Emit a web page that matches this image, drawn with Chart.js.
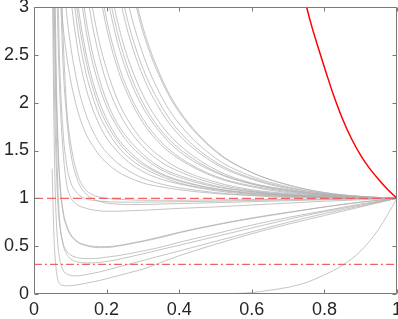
<!DOCTYPE html>
<html><head><meta charset="utf-8">
<script src="https://cdn.jsdelivr.net/npm/chart.js@4/dist/chart.umd.min.js"></script>
<style>html,body{margin:0;padding:0;background:#fff;overflow:hidden}canvas{display:block}</style>
</head><body>
<canvas id="c" width="398" height="319" style="width:398px;height:319px"></canvas>
<script>
const xTickValues = [0, 0.2, 0.4, 0.6, 0.8, 1];
const xTickLabels = ['0', '0.2', '0.4', '0.6', '0.8', '1'];
const yTickValues = [0, 0.5, 1, 1.5, 2, 2.5, 3];
const yTickLabels = ['0', '0.5', '1', '1.5', '2', '2.5', '3'];
const refLevelHigh = 1;
const refLevelLow = 0.31;

// red boundary curve
const boundaryCurve = [[0.745,3.1],[0.751,3.0],[0.765,2.80],[0.785,2.55],[0.805,2.31],[0.826,2.07],[0.85,1.83],[0.875,1.62],[0.9,1.45],[0.925,1.31],[0.95,1.195],[0.975,1.09],[1,1]];

// grey trajectories staying above 1
const upper01 = [[0.09,3.54],[0.1,3.14],[0.12,2.57],[0.14,2.20],[0.16,1.95],[0.18,1.77],[0.2,1.63],[0.23,1.49],[0.26,1.38],[0.3,1.28],[0.35,1.20],[0.4,1.15],[0.5,1.08],[0.6,1.04],[0.7,1.02],[0.8,1.01],[0.9,1.0],[1,1]];
const upper02 = [[0.1,3.42],[0.12,2.78],[0.14,2.36],[0.16,2.08],[0.18,1.87],[0.2,1.72],[0.23,1.55],[0.26,1.43],[0.3,1.32],[0.35,1.23],[0.4,1.16],[0.5,1.09],[0.6,1.05],[0.7,1.03],[0.8,1.01],[0.9,1.0],[1,1]];
const upper03 = [[0.1,3.80],[0.12,3.06],[0.14,2.58],[0.16,2.25],[0.18,2.01],[0.2,1.83],[0.23,1.63],[0.26,1.50],[0.3,1.37],[0.35,1.26],[0.4,1.19],[0.5,1.10],[0.6,1.06],[0.7,1.03],[0.8,1.01],[0.9,1.0],[1,1]];
const upper04 = [[0.12,3.39],[0.14,2.83],[0.16,2.44],[0.18,2.17],[0.2,1.96],[0.23,1.74],[0.26,1.58],[0.3,1.43],[0.35,1.30],[0.4,1.22],[0.5,1.12],[0.6,1.07],[0.7,1.03],[0.8,1.02],[0.9,1.0],[1,1]];
const upper05 = [[0.12,3.54],[0.14,2.95],[0.16,2.54],[0.18,2.25],[0.2,2.02],[0.23,1.78],[0.26,1.62],[0.3,1.46],[0.35,1.32],[0.4,1.24],[0.5,1.13],[0.6,1.07],[0.7,1.04],[0.8,1.02],[0.9,1.0],[1,1]];
const upper06 = [[0.14,3.31],[0.16,2.83],[0.18,2.48],[0.2,2.21],[0.23,1.93],[0.26,1.73],[0.3,1.54],[0.35,1.38],[0.4,1.28],[0.5,1.15],[0.6,1.08],[0.7,1.04],[0.8,1.02],[0.9,1.01],[1,1]];
const upper07 = [[0.14,3.56],[0.16,3.02],[0.18,2.63],[0.2,2.35],[0.23,2.03],[0.26,1.81],[0.3,1.60],[0.35,1.43],[0.4,1.31],[0.5,1.17],[0.6,1.09],[0.7,1.05],[0.8,1.02],[0.9,1.01],[1,1]];
const upper08 = [[0.18,3.17],[0.2,2.78],[0.23,2.36],[0.26,2.07],[0.3,1.79],[0.35,1.56],[0.4,1.41],[0.5,1.22],[0.6,1.12],[0.7,1.06],[0.8,1.03],[0.9,1.01],[1,1]];
const upper09 = [[0.18,3.28],[0.2,2.87],[0.23,2.43],[0.26,2.12],[0.3,1.83],[0.35,1.59],[0.4,1.43],[0.5,1.23],[0.6,1.13],[0.7,1.07],[0.8,1.03],[0.9,1.01],[1,1]];
const upper10 = [[0.2,3.13],[0.23,2.63],[0.26,2.28],[0.3,1.95],[0.35,1.68],[0.4,1.49],[0.5,1.27],[0.6,1.15],[0.7,1.08],[0.8,1.03],[0.9,1.01],[1,1]];
const upper11 = [[0.2,3.25],[0.23,2.73],[0.26,2.35],[0.3,2.00],[0.35,1.71],[0.4,1.52],[0.5,1.28],[0.6,1.15],[0.7,1.08],[0.8,1.04],[0.9,1.01],[1,1]];
const upper12 = [[0.2,3.42],[0.23,2.85],[0.26,2.45],[0.3,2.08],[0.35,1.77],[0.4,1.56],[0.5,1.30],[0.6,1.16],[0.7,1.09],[0.8,1.04],[0.9,1.01],[1,1]];
const upper13 = [[0.23,3.19],[0.26,2.72],[0.3,2.28],[0.35,1.91],[0.4,1.66],[0.5,1.36],[0.6,1.20],[0.7,1.10],[0.8,1.04],[0.9,1.01],[1,1]];
const upper14 = [[0.23,3.34],[0.26,2.83],[0.3,2.36],[0.35,1.97],[0.4,1.70],[0.5,1.38],[0.6,1.21],[0.7,1.11],[0.8,1.05],[0.9,1.01],[1,1]];
const upper15 = [[0.23,3.59],[0.26,3.03],[0.3,2.51],[0.35,2.07],[0.4,1.78],[0.5,1.42],[0.6,1.23],[0.7,1.12],[0.8,1.05],[0.9,1.02],[1,1]];
const upper16 = [[0.26,3.35],[0.3,2.74],[0.35,2.24],[0.4,1.90],[0.5,1.49],[0.6,1.27],[0.7,1.14],[0.8,1.06],[0.9,1.02],[1,1]];
const upper17 = [[0.26,3.42],[0.3,2.79],[0.35,2.27],[0.4,1.92],[0.5,1.50],[0.6,1.27],[0.7,1.14],[0.8,1.06],[0.9,1.02],[1,1]];
const upper18 = [[0.08,3.34],[0.09,2.93],[0.1,2.62],[0.12,2.19],[0.14,1.91],[0.16,1.72],[0.18,1.58],[0.2,1.48],[0.23,1.37],[0.26,1.29],[0.3,1.21],[0.35,1.15],[0.4,1.11],[0.5,1.06],[0.6,1.03],[0.7,1.02],[0.8,1.01],[0.9,1.0],[1,1]];
const upper19 = [[0.1,3.64],[0.12,2.94],[0.14,2.49],[0.16,2.18],[0.18,1.95],[0.2,1.78],[0.23,1.60],[0.26,1.47],[0.3,1.35],[0.35,1.25],[0.4,1.18],[0.5,1.10],[0.6,1.05],[0.7,1.03],[0.8,1.01],[0.9,1.0],[1,1]];
const upper20 = [[0.07,3.24],[0.08,2.80],[0.09,2.49],[0.1,2.25],[0.12,1.92],[0.14,1.70],[0.16,1.56],[0.18,1.45],[0.2,1.37],[0.23,1.28],[0.26,1.22],[0.3,1.16],[0.35,1.12],[0.4,1.09],[0.5,1.05],[0.6,1.03],[0.7,1.01],[0.8,1.01],[0.9,1.0],[1,1]];

// grey trajectories dipping below 1
const lowerG = [[0.07,3.5],[0.08,2.4],[0.09,1.85],[0.1,1.5],[0.12,1.19],[0.14,1.06],[0.16,1.0],[0.18,0.97],[0.2,0.95],[0.23,0.94],[0.26,0.935],[0.3,0.935],[0.35,0.94],[0.4,0.945],[0.5,0.955],[0.6,0.965],[0.7,0.975],[0.8,0.985],[0.9,0.995],[1,1]];
const lowerF = [[0.06,3.6],[0.07,2.2],[0.08,1.5],[0.09,1.15],[0.1,1.02],[0.12,0.93],[0.14,0.9],[0.16,0.88],[0.18,0.87],[0.2,0.865],[0.23,0.865],[0.26,0.87],[0.3,0.875],[0.35,0.885],[0.4,0.895],[0.5,0.91],[0.6,0.93],[0.7,0.95],[0.8,0.97],[0.9,0.985],[1,1]];
const lowerI1 = [[0.065,3.4],[0.07,2.5],[0.08,1.7],[0.09,1.35],[0.1,1.18],[0.12,1.05],[0.14,1.0],[0.16,0.98],[0.2,0.965],[0.26,0.96],[0.3,0.96],[0.4,0.965],[0.5,0.97],[0.6,0.978],[0.7,0.985],[0.8,0.99],[0.9,0.996],[1,1]];
const lowerI2 = [[0.075,3.3],[0.08,2.7],[0.09,1.95],[0.1,1.6],[0.12,1.25],[0.14,1.1],[0.16,1.04],[0.2,1.0],[0.26,0.985],[0.3,0.98],[0.4,0.98],[0.5,0.983],[0.6,0.987],[0.7,0.99],[0.8,0.994],[0.9,0.998],[1,1]];
const lowerA = [[0.055,3.5],[0.06,2.3],[0.065,1.6],[0.07,1.2],[0.08,0.85],[0.09,0.7],[0.1,0.62],[0.12,0.54],[0.14,0.51],[0.16,0.49],[0.18,0.485],[0.2,0.485],[0.23,0.5],[0.26,0.52],[0.3,0.55],[0.35,0.59],[0.4,0.64],[0.5,0.72],[0.6,0.79],[0.7,0.85],[0.8,0.91],[0.9,0.96],[1,1]];
const lowerA2 = [[0.057,3.4],[0.062,2.2],[0.067,1.5],[0.072,1.15],[0.08,0.87],[0.09,0.72],[0.1,0.63],[0.12,0.55],[0.14,0.515],[0.16,0.5],[0.18,0.495],[0.2,0.495],[0.23,0.505],[0.26,0.525],[0.3,0.555],[0.35,0.6],[0.4,0.645],[0.5,0.725],[0.6,0.795],[0.7,0.855],[0.8,0.91],[0.9,0.96],[1,1]];
const lowerB = [[0.052,3.4],[0.055,2.4],[0.06,1.5],[0.065,1.0],[0.07,0.75],[0.08,0.53],[0.09,0.45],[0.1,0.41],[0.12,0.38],[0.14,0.37],[0.16,0.37],[0.18,0.375],[0.2,0.385],[0.23,0.40],[0.26,0.42],[0.3,0.45],[0.35,0.49],[0.4,0.54],[0.5,0.63],[0.6,0.72],[0.7,0.80],[0.8,0.87],[0.9,0.94],[1,1]];
const lowerC = [[0.054,3.5],[0.058,2.4],[0.062,1.6],[0.066,1.1],[0.07,0.8],[0.08,0.52],[0.09,0.42],[0.1,0.37],[0.12,0.335],[0.14,0.325],[0.16,0.325],[0.18,0.33],[0.2,0.34],[0.23,0.36],[0.26,0.385],[0.3,0.42],[0.35,0.465],[0.4,0.51],[0.5,0.60],[0.6,0.69],[0.7,0.78],[0.8,0.86],[0.9,0.93],[1,1]];
const lowerD = [[0.05,3.5],[0.053,2.4],[0.056,1.5],[0.06,0.9],[0.065,0.55],[0.07,0.38],[0.08,0.25],[0.09,0.21],[0.1,0.195],[0.11,0.19],[0.12,0.19],[0.14,0.2],[0.16,0.215],[0.18,0.23],[0.2,0.25],[0.23,0.28],[0.26,0.31],[0.3,0.35],[0.35,0.40],[0.4,0.45],[0.5,0.55],[0.6,0.65],[0.7,0.75],[0.8,0.84],[0.9,0.92],[1,1]];
const lowerE = [[0.05,1.31],[0.055,0.6],[0.06,0.3],[0.065,0.16],[0.07,0.11],[0.08,0.09],[0.09,0.085],[0.1,0.087],[0.12,0.095],[0.14,0.11],[0.16,0.125],[0.18,0.14],[0.2,0.16],[0.23,0.19],[0.26,0.22],[0.3,0.26],[0.35,0.33],[0.4,0.40],[0.5,0.52],[0.6,0.63],[0.7,0.73],[0.8,0.82],[0.9,0.91],[1,1]];
const lowerH = [[0.45,0.0],[0.55,0.005],[0.6,0.015],[0.65,0.04],[0.7,0.07],[0.75,0.12],[0.8,0.2],[0.85,0.3],[0.9,0.45],[0.95,0.68],[1,1]];

const greyCurves = [upper01,upper02,upper03,upper04,upper05,upper06,upper07,upper08,upper09,upper10,
  upper11,upper12,upper13,upper14,upper15,upper16,upper17,upper18,upper19,upper20,
  lowerG,lowerF,lowerI1,lowerI2,lowerA,lowerA2,lowerB,lowerC,lowerD,lowerE,lowerH];

const toPts = arr => arr.map(p => ({x: p[0], y: p[1]}));
const FONT = {family: "'Liberation Sans', Arial, Helvetica, sans-serif", size: 18};
const TEXT = '#262626';

const datasets = [];
datasets.push({data: toPts(boundaryCurve), borderColor: '#ff0000', borderWidth: 1.5, order: 0, cubicInterpolationMode: 'monotone'});
datasets.push({data: [{x:0,y:refLevelHigh},{x:1,y:refLevelHigh}], borderColor: 'rgba(245,90,90,0.95)', borderWidth: 1.3, borderDash: [9,4], order: 0});
datasets.push({data: [{x:0,y:refLevelLow},{x:1,y:refLevelLow}], borderColor: 'rgba(240,90,90,0.95)', borderWidth: 1.2, borderDash: [8,3,2,3], order: 0});
greyCurves.forEach(c => datasets.push({data: toPts(c), borderColor: 'rgba(178,178,178,0.85)', borderWidth: 0.9, order: 1, cubicInterpolationMode: 'monotone'}));
datasets.forEach(d => { d.pointRadius = 0; d.fill = false; d.showLine = true; });

const frame = {
  id: 'frame',
  afterDatasetsDraw(chart) {
    const ctx = chart.ctx, xs = chart.scales.x, ys = chart.scales.y;
    const L = Math.floor(xs.getPixelForValue(0)) + 0.5, R = Math.ceil(xs.getPixelForValue(1)) - 0.5;
    const B = Math.ceil(ys.getPixelForValue(0)) - 0.5, T = Math.floor(ys.getPixelForValue(3)) + 0.5;
    ctx.save();
    ctx.strokeStyle = '#7a7a7a'; ctx.lineWidth = 1;
    ctx.beginPath();
    ctx.rect(L, T, R - L, B - T);
    const tl = 4;
    xTickValues.forEach(v => { const p = Math.round(xs.getPixelForValue(v)) + 0.5; ctx.moveTo(p, B); ctx.lineTo(p, B - tl); ctx.moveTo(p, T); ctx.lineTo(p, T + tl); });
    yTickValues.forEach(v => { const p = Math.round(ys.getPixelForValue(v)) + 0.5; ctx.moveTo(L, p); ctx.lineTo(L + tl, p); ctx.moveTo(R, p); ctx.lineTo(R - tl, p); });
    ctx.stroke();
    ctx.restore();
  }
};

new Chart(document.getElementById('c'), {
  type: 'scatter',
  data: {datasets},
  options: {
    responsive: false, animation: false, devicePixelRatio: 1,
    layout: {padding: {top: 7, right: 1, left: 0, bottom: 0}},
    plugins: {legend: {display: false}, tooltip: {enabled: false}},
    elements: {line: {tension: 0}},
    scales: {
      x: {type: 'linear', min: 0, max: 1,
        grid: {display: false, drawTicks: false}, border: {display: false},
        afterBuildTicks: s => { s.ticks = xTickValues.map(v => ({value: v})); },
        afterFit: s => { s.height = 25; s.paddingLeft = 0; s.paddingRight = 0; },
        ticks: {font: FONT, color: TEXT, padding: 5, maxRotation: 0, autoSkip: false,
          callback: (v) => xTickLabels[xTickValues.indexOf(v)] }},
      y: {type: 'linear', min: 0, max: 3,
        grid: {display: false, drawTicks: false}, border: {display: false},
        afterBuildTicks: s => { s.ticks = yTickValues.map(v => ({value: v})); },
        afterFit: s => { s.width = 34; s.paddingTop = 0; s.paddingBottom = 0; },
        ticks: {font: FONT, color: TEXT, padding: 5, autoSkip: false,
          callback: (v) => yTickLabels[yTickValues.indexOf(v)] }}
    }
  },
  plugins: [frame]
});
</script>
</body></html>
